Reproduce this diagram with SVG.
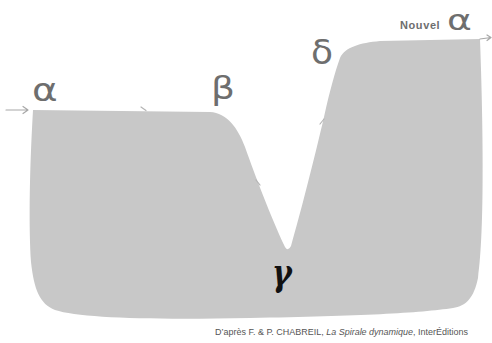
<svg xmlns="http://www.w3.org/2000/svg" width="492" height="343" viewBox="0 0 492 343">
<style>
.lbl{font-family:"DejaVu Sans",sans-serif;fill:#6e6e6e}
.arr{fill:none;stroke:#a8a8a8;stroke-width:1.2;stroke-linecap:round;stroke-linejoin:round}
.notch{fill:none;stroke:#b4b4b4;stroke-width:1.2;stroke-linecap:round}
.cap{font-family:"Liberation Sans",sans-serif;font-size:8.6px;fill:#555}
</style>
<rect width="492" height="343" fill="#fff"/>
<g id="shape">
<path fill="#c8c8c8" d="M33,110 L210,112 C227,113 238,128 245,147 C255,175 270,215 285,247 Q288,252 291,246 C300,215 314,160 324,117 C330,90 335,72 340,58 C345,47 360,43 380,41 L480,39 C483,120 485,230 478,278 C474,298 466,306 453,308 C420,313 360,316 250,318 C150,320 80,318 55,310 C40,304 34,290 31,262 C29,230 29,180 33,110 Z"/>
</g>
<g id="connectors">
<path class="arr" d="M6,110 L28,110 M23,106.5 L28,110 L23,113.5"/>
<path class="arr" d="M480,39 L491,37.5 M487,35 L491,37.5 L487,40.5"/>
<path class="notch" d="M141,107 L146,110.5"/>
<path class="notch" d="M256,180 L260,185"/>
<path class="notch" d="M320,124 L324,119"/>
</g>
<g id="alpha"><text class="lbl" font-size="30" transform="translate(32,101) scale(1.3,1.05)">α</text></g>
<g id="beta"><text class="lbl" font-size="30" transform="translate(211,99) scale(1.25,1.05)">β</text></g>
<g id="gamma"><text font-size="30" font-weight="bold" font-style="italic" style="font-family:'DejaVu Serif',serif" fill="#111" transform="translate(272,285) scale(1,1.25)">γ</text></g>
<g id="delta"><text class="lbl" font-size="30" transform="translate(311,64) scale(1.2,1.15)">δ</text></g>
<g id="nouvel-alpha">
<text class="lbl" x="400" y="29" font-size="11" font-weight="bold" style="font-family:'Liberation Sans',sans-serif" letter-spacing="0.6">Nouvel</text>
<text class="lbl" font-size="26" transform="translate(447,30) scale(1.45,1.1)">α</text>
</g>
<g id="caption"><text class="cap" x="215" y="335" textLength="253" lengthAdjust="spacingAndGlyphs">D’après F. &amp; P. CHABREIL, <tspan font-style="italic">La Spirale dynamique</tspan>, InterÉditions</text></g>
</svg>
